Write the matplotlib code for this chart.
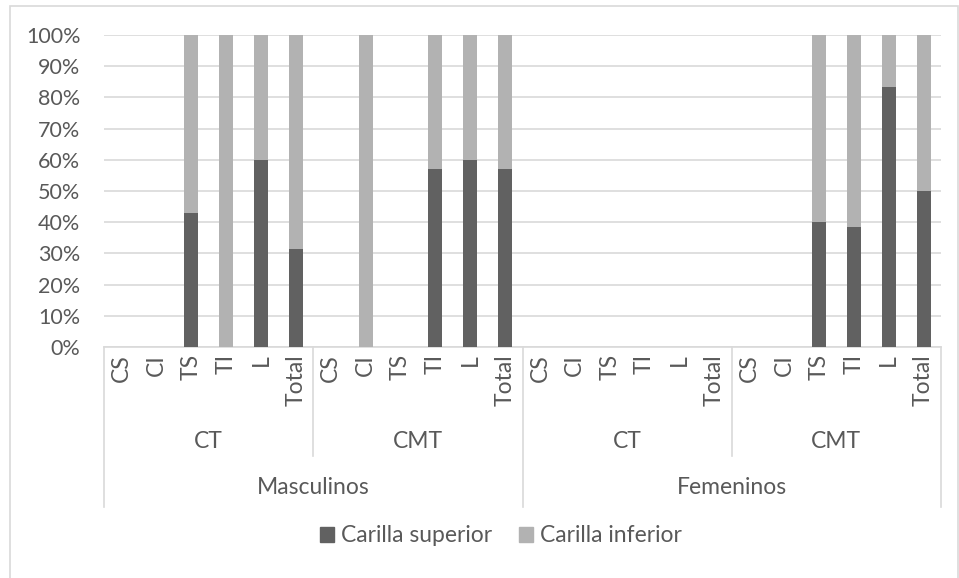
import matplotlib
matplotlib.use("Agg")
import matplotlib.pyplot as plt
from matplotlib.patches import Rectangle, Patch
from matplotlib.lines import Line2D
import matplotlib.transforms as mtransforms

plt.rcParams['font.family'] = ['Lato', 'DejaVu Sans']

# ---- data ----
sub_labels = ["CS", "CI", "TS", "TI", "L", "Total"] * 4
mid_labels = ["CT", "CMT", "CT", "CMT"]
top_labels = ["Masculinos", "Femeninos"]
superior = [0, 0, 42.9, 0, 60, 31.3,
            0, 0, 0, 57.1, 60, 57.1,
            0, 0, 0, 0, 0, 0,
            0, 0, 40, 38.5, 83.3, 50]
inferior = [0, 0, 57.1, 100, 40, 68.7,
            0, 100, 0, 42.9, 40, 42.9,
            0, 0, 0, 0, 0, 0,
            0, 0, 60, 61.5, 16.7, 50]
series_names = ["Carilla superior", "Carilla inferior"]

W, H = 959, 578
fig = plt.figure(figsize=(W / 100, H / 100), dpi=100)
dark = "#616161"
light = "#B2B2B2"
grid = "#D9D9D9"
txt = "#595959"
FS = 16.5

L, R, T, B = 104, 941, 35, 347
ax = fig.add_axes([L / W, 1 - B / H, (R - L) / W, (B - T) / H])

x = list(range(len(sub_labels)))
ax.bar(x, superior, width=0.4, color=dark, zorder=3)
ax.bar(x, inferior, width=0.4, bottom=superior, color=light, zorder=3)

ax.set_xlim(-0.5, len(x) - 0.5)
ax.set_ylim(0, 100)
ax.set_yticks(range(0, 101, 10))
ax.set_yticklabels([f"{v}%" for v in range(0, 101, 10)])
ax.yaxis.grid(True, color=grid, lw=1.2, zorder=0)
ax.tick_params(axis='y', length=0, pad=17, labelsize=15.5, labelcolor=txt)
ax.set_xticks(x)
ax.set_xticklabels(sub_labels, rotation=90, va='top', ha='center')
ax.tick_params(axis='x', length=0, pad=5, labelsize=FS, labelcolor=txt)
for s in ["left", "right", "top"]:
    ax.spines[s].set_visible(False)
ax.spines["bottom"].set_color(grid)
ax.spines["bottom"].set_linewidth(1.2)

# multi-level category axis
trans = mtransforms.blended_transform_factory(ax.transData, fig.transFigure)
def fy(py):
    return 1 - py / H

n = len(x)
for b in range(0, n + 1, 6):
    xb = b - 0.5
    y_end = 507 if b % 12 == 0 else 456
    fig.add_artist(Line2D([xb, xb], [fy(B), fy(y_end)], transform=trans,
                          color=grid, lw=1.2))
for i, lab in enumerate(mid_labels):
    fig.text(i * 6 + 2.5, fy(441), lab, transform=trans, ha='center', va='center',
             fontsize=FS, color=txt)
for i, lab in enumerate(top_labels):
    fig.text(i * 12 + 5.5, fy(488), lab, transform=trans, ha='center', va='center',
             fontsize=FS, color=txt)

# outer chart border
fig.add_artist(Rectangle((10 / W, -0.05), (958 - 10) / W, fy(6) + 0.05,
                         transform=fig.transFigure, fill=False, edgecolor=grid, lw=1.2))

handles = [Patch(color=dark), Patch(color=light)]
fig.legend(handles, series_names, loc='center', bbox_to_anchor=(501 / W, fy(536)),
           ncol=2, frameon=False, fontsize=FS, labelcolor=txt,
           handlelength=0.6, handleheight=0.6, handletextpad=0.3, columnspacing=1.2)

fig.savefig("out.png", dpi=100)
